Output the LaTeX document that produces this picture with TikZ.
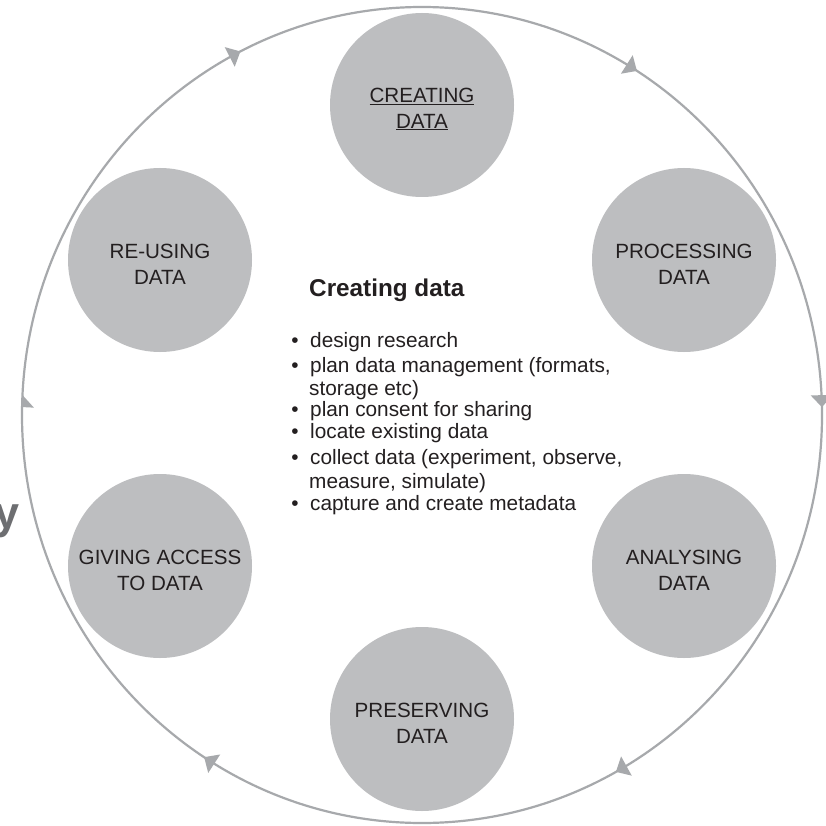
\documentclass[tikz,border=0pt]{standalone}
\usepackage{fontspec}
\setmainfont{Liberation Sans}
\usetikzlibrary{shapes.geometric}
\definecolor{blobgray}{HTML}{BDBEC0}
\definecolor{ringgray}{HTML}{A7A9AC}
\definecolor{inkdark}{HTML}{231F20}
\definecolor{ygray}{HTML}{6D6E71}
\newcommand{\ringhead}[3]{%
  \pgfmathsetmacro{\rhTx}{422+400*cos(#1)}%
  \pgfmathsetmacro{\rhTy}{415-408*sin(#1)}%
  \pgfmathsetmacro{\rhBx}{\rhTx-12*sin(#1)}%
  \pgfmathsetmacro{\rhBy}{\rhTy-12*cos(#1)}%
  \pgfmathsetmacro{\rhIx}{\rhBx-#3*cos(#1)}%
  \pgfmathsetmacro{\rhIy}{\rhBy+#3*sin(#1)}%
  \pgfmathsetmacro{\rhOx}{\rhBx+#2*cos(#1)}%
  \pgfmathsetmacro{\rhOy}{\rhBy-#2*sin(#1)}%
  \fill[ringgray] (\rhTx,\rhTy) -- (\rhIx,\rhIy) -- (\rhOx,\rhOy) -- cycle;%
}
\begin{document}
\begin{tikzpicture}[x=1pt,y=-1pt,
  ringline/.style={draw=ringgray, line width=2.2pt},
  blob/.style={circle, fill=blobgray, minimum size=184pt, inner sep=0pt},
  blobtext/.style={text=inkdark, align=center, inner sep=0pt,
    font=\fontsize{20.6}{26}\selectfont},
  itemtext/.style={anchor=base west, text=inkdark, inner sep=0pt,
    font=\fontsize{20.8}{25}\selectfont},
  bulletmark/.style={anchor=base, text=inkdark, inner sep=0pt,
    font=\fontsize{20.8}{25}\selectfont},
  headtext/.style={anchor=base west, text=inkdark, inner sep=0pt,
    font=\fontsize{24.3}{28}\selectfont\bfseries}
]
\useasboundingbox (0,0) rectangle (825,826);
\fill[white] (0,0) rectangle (825,826);

% outer cycle ring
\node[ellipse, ringline, minimum width=800pt, minimum height=816pt, inner sep=0pt] (ring) at (422,415) {};
\ringhead{117}{11}{11}
\ringhead{57.5}{11}{11}
\ringhead{1.1}{11}{11}
\ringhead{-61}{11}{11}
\ringhead{-123}{11}{11}
\ringhead{177.2}{0}{12}

% stage circles
\node[blob] (create)   at (422,105) {};
\node[blob] (process)  at (684,260) {};
\node[blob] (analyse)  at (684,566) {};
\node[blob] (preserve) at (422,719) {};
\node[blob] (access)   at (160,566) {};
\node[blob] (reuse)    at (160,260) {};

\node[blobtext] (createL)   at ([yshift=-4pt]create.center)   {\underline{CREATING}\\\underline{DATA}};
\node[blobtext] (processL)  at ([yshift=-4pt]process.center)  {PROCESSING\\DATA};
\node[blobtext] (analyseL)  at ([yshift=-4pt]analyse.center)  {ANALYSING\\DATA};
\node[blobtext] (preserveL) at ([yshift=-4pt]preserve.center) {PRESERVING\\DATA};
\node[blobtext] (accessL)   at ([yshift=-4pt]access.center)   {GIVING ACCESS\\TO DATA};
\node[blobtext] (reuseL)    at ([yshift=-4pt]reuse.center)    {RE-USING\\DATA};

% central text
\node[headtext] (head) at (309,296) {Creating data};

\node[bulletmark] (b1) at (295,347) {•};
\node[itemtext] (t1) at (310,347) {design research};
\node[bulletmark] (b2) at (295,372) {•};
\node[itemtext] (t2) at (310,372) {plan data management (formats,};
\node[itemtext] (t2b) at (309,395) {storage etc)};
\node[bulletmark] (b3) at (295,416.7) {•};
\node[itemtext] (t3) at (310,416.7) {plan consent for sharing};
\node[bulletmark] (b4) at (295,438) {•};
\node[itemtext] (t4) at (310,438) {locate existing data};
\node[bulletmark] (b5) at (295,464) {•};
\node[itemtext] (t5) at (310,464) {collect data (experiment, observe,};
\node[itemtext] (t5b) at (309,488) {measure, simulate)};
\node[bulletmark] (b6) at (295,510) {•};
\node[itemtext] (t6) at (310,510) {capture and create metadata};

% cropped fragment at the left edge
\node[anchor=base east, text=ygray, inner sep=0pt,
  font=\fontsize{45}{45}\selectfont\bfseries] (yfrag) at (19.5,528) {y};
\end{tikzpicture}
\end{document}
